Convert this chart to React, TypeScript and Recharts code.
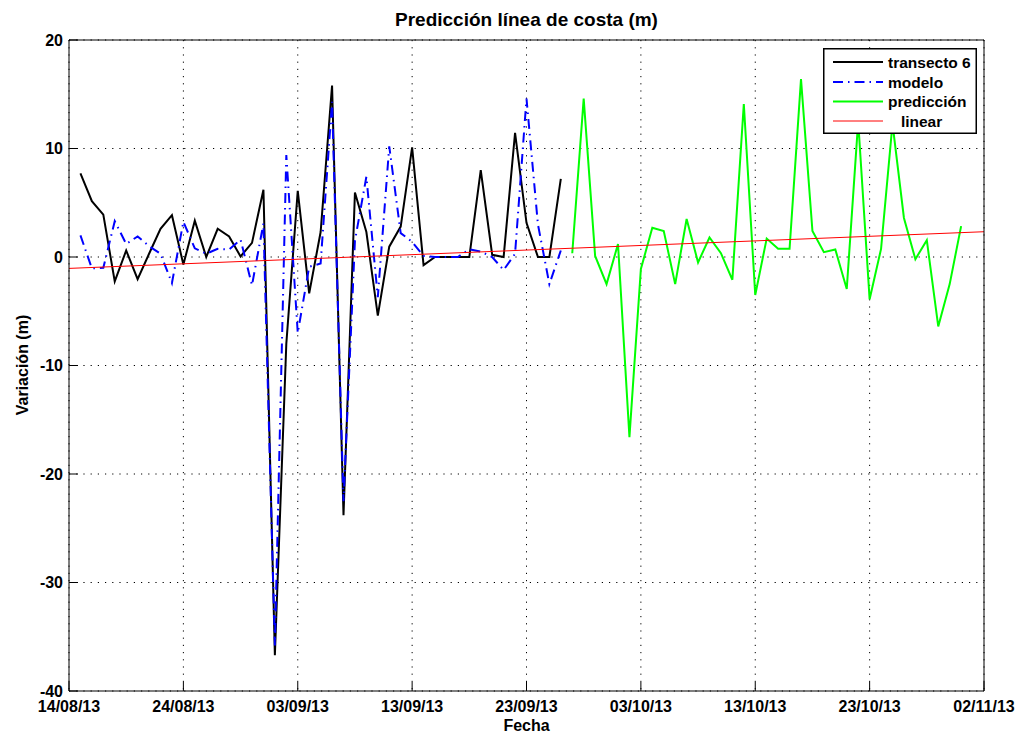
import React from 'react';
import {
  LineChart,
  Line,
  XAxis,
  YAxis,
  CartesianGrid,
  Legend,
  Label,
} from 'recharts';

// Days counted from 14/08/13 (day 0)
const transectoStartDay = 1;
const transectoValues = [
  7.7, 5.15, 3.9, -2.25, 0.6, -2.05, 0.3, 2.6, 3.85, -0.7,
  3.35, 0.0, 2.6, 1.9, 0.05, 1.3, 6.2, -36.7, -8.0, 6.1,
  -3.35, 2.3, 15.8, -23.8, 5.95, 2.3, -5.4, 0.95, 2.8, 10.1,
  -0.75, 0.0, 0.0, 0.0, 0.0, 8.0, 0.2, 0.0, 11.45, 3.15,
  0.0, 0.0, 7.2,
];

const modeloStartDay = 1;
const modeloValues = [
  2.0, -1.05, -1.0, 3.3, 1.2, 1.9, 1.0, 0.3, -2.4, 3.25,
  0.8, 0.3, 0.75, 0.7, 1.6, -2.6, 3.1, -35.8, 9.4, -7.0,
  -0.9, -0.6, 14.3, -22.5, 1.5, 7.4, -3.7, 10.2, 2.2, 1.4,
  0.1, 0.0, 0.0, 0.0, 0.7, 0.5, 0.0, -1.2, 0.3, 14.6,
  3.0, -2.5, 0.6,
];

const prediccionStartDay = 44;
const prediccionValues = [
  0.35, 14.6, 0.1, -2.5, 1.2, -16.6, -1.1, 2.7, 2.4, -2.5,
  3.5, -0.5, 1.8, 0.35, -2.1, 14.1, -3.5, 1.7, 0.75, 0.75,
  16.4, 2.4, 0.45, 0.7, -2.95, 12.5, -3.9, 0.75, 12.3, 3.6,
  -0.2, 1.55, -6.4, -2.5, 2.85,
];

// Linear trend: value at the first and last day of the axis
const linearDays = [0, 80];
const linearValues = [-1.05, 2.33];

const xTickDays = [0, 10, 20, 30, 40, 50, 60, 70, 80];
const xTickLabels = [
  '14/08/13', '24/08/13', '03/09/13', '13/09/13', '23/09/13',
  '03/10/13', '13/10/13', '23/10/13', '02/11/13',
];
const yTicks = [-40, -30, -20, -10, 0, 10, 20];

const seriesOrder = ['transecto', 'modelo', 'prediccion', 'linear'];

const pick = (values: number[], start: number, day: number) => {
  const i = day - start;
  return i >= 0 && i < values.length ? values[i] : null;
};

const rows = Array.from({ length: 81 }, (_, day) => {
  const li = linearDays.indexOf(day);
  return {
    day,
    transecto: pick(transectoValues, transectoStartDay, day),
    modelo: pick(modeloValues, modeloStartDay, day),
    prediccion: pick(prediccionValues, prediccionStartDay, day),
    linear: li >= 0 ? linearValues[li] : null,
  };
});

const FONT = '"Liberation Sans", Arial, Helvetica, sans-serif';
const tickStyle = { fontFamily: FONT, fontSize: 16, fontWeight: 700, fill: '#000' };

const LegendBox = (props: any) => {
  const payload = [...(props.payload || [])].sort(
    (a: any, b: any) => seriesOrder.indexOf(a.dataKey) - seriesOrder.indexOf(b.dataKey)
  );
  const rowsY = [14, 34, 53.5, 73];
  return (
    <svg width={154} height={86} style={{ display: 'block' }}>
      <rect x={0.75} y={0.75} width={152.5} height={84.5} fill="#fff" stroke="#000" strokeWidth={1.5} />
      {payload.map((p: any, i: number) => (
        <g key={i}>
          <line
            x1={10}
            x2={60}
            y1={rowsY[i]}
            y2={rowsY[i]}
            stroke={p.color}
            strokeWidth={p.payload?.strokeWidth ?? 1}
            strokeDasharray={p.payload?.strokeDasharray}
          />
          <text
            x={65}
            y={rowsY[i] + 5.5}
            style={{ whiteSpace: 'pre' }}
            fontFamily={FONT}
            fontSize={15.5}
            fontWeight={700}
            fill="#000"
          >
            {p.value}
          </text>
        </g>
      ))}
    </svg>
  );
};

export default function App() {
  return (
    <div style={{ position: 'absolute', left: 0, top: 0, width: 1020, height: 734, background: '#fff' }}>
      <LineChart
        width={1020}
        height={734}
        data={rows}
        margin={{ top: 39, right: 35, bottom: 13, left: 0 }}
      >
        <CartesianGrid stroke="#000" strokeDasharray="1.2 6" strokeWidth={1} />
        <XAxis
          dataKey="day"
          type="number"
          domain={[0, 80]}
          ticks={xTickDays}
          tickFormatter={(v: number) => xTickLabels[xTickDays.indexOf(v)]}
          interval={0}
          height={30}
          tickSize={-9}
          tickMargin={19}
          tick={tickStyle}
          stroke="#000"
          allowDataOverflow
        >
          <Label
            content={(p: any) => {
              const vb = p.viewBox;
              return (
                <text x={vb.x + vb.width / 2} y={731} textAnchor="middle" fontFamily={FONT} fontSize={16} fontWeight={700} fill="#000">
                  Fecha
                </text>
              );
            }}
          />
        </XAxis>
        <XAxis
          xAxisId="top"
          orientation="top"
          dataKey="day"
          type="number"
          domain={[0, 80]}
          ticks={xTickDays}
          interval={0}
          height={1}
          tickSize={-9}
          tick={false}
          stroke="#000"
        >
          <Label
            content={(p: any) => {
              const vb = p.viewBox;
              return (
                <text x={vb.x + vb.width / 2} y={26} textAnchor="middle" fontFamily={FONT} fontSize={19} fontWeight={700} fill="#000">
                  Predicción línea de costa (m)
                </text>
              );
            }}
          />
        </XAxis>
        <YAxis
          type="number"
          domain={[-40, 20]}
          ticks={yTicks}
          interval={0}
          width={69}
          tickSize={-9}
          tickMargin={15}
          tick={tickStyle}
          stroke="#000"
          allowDataOverflow
        >
          <Label
            content={() => (
              <text x={28} y={365} transform="rotate(-90 28 365)" textAnchor="middle" fontFamily={FONT} fontSize={16} fontWeight={700} fill="#000">
                Variación (m)
              </text>
            )}
          />
        </YAxis>
        <YAxis
          yAxisId="right"
          orientation="right"
          type="number"
          domain={[-40, 20]}
          ticks={yTicks}
          interval={0}
          width={1}
          tickSize={-9}
          tick={false}
          stroke="#000"
        />
        <Line
          name="transecto 6"
          dataKey="transecto"
          type="linear"
          stroke="#000000"
          strokeWidth={2}
          dot={false}
          activeDot={false}
          isAnimationActive={false}
        />
        <Line
          name="modelo"
          dataKey="modelo"
          type="linear"
          stroke="#0000ff"
          strokeWidth={2}
          strokeDasharray="10 5 1.5 5"
          dot={false}
          activeDot={false}
          isAnimationActive={false}
        />
        <Line
          name="predicción"
          dataKey="prediccion"
          type="linear"
          stroke="#00ff00"
          strokeWidth={2}
          dot={false}
          activeDot={false}
          isAnimationActive={false}
        />
        <Line
          name="   linear"
          dataKey="linear"
          type="linear"
          stroke="#ff0000"
          strokeWidth={1}
          connectNulls
          dot={false}
          activeDot={false}
          isAnimationActive={false}
        />
        <Legend
          layout="horizontal"
          verticalAlign="middle"
          align="center"
          content={<LegendBox />}
          wrapperStyle={{ left: 823, top: 48, width: 154, height: 86 }}
        />
      </LineChart>
    </div>
  );
}
